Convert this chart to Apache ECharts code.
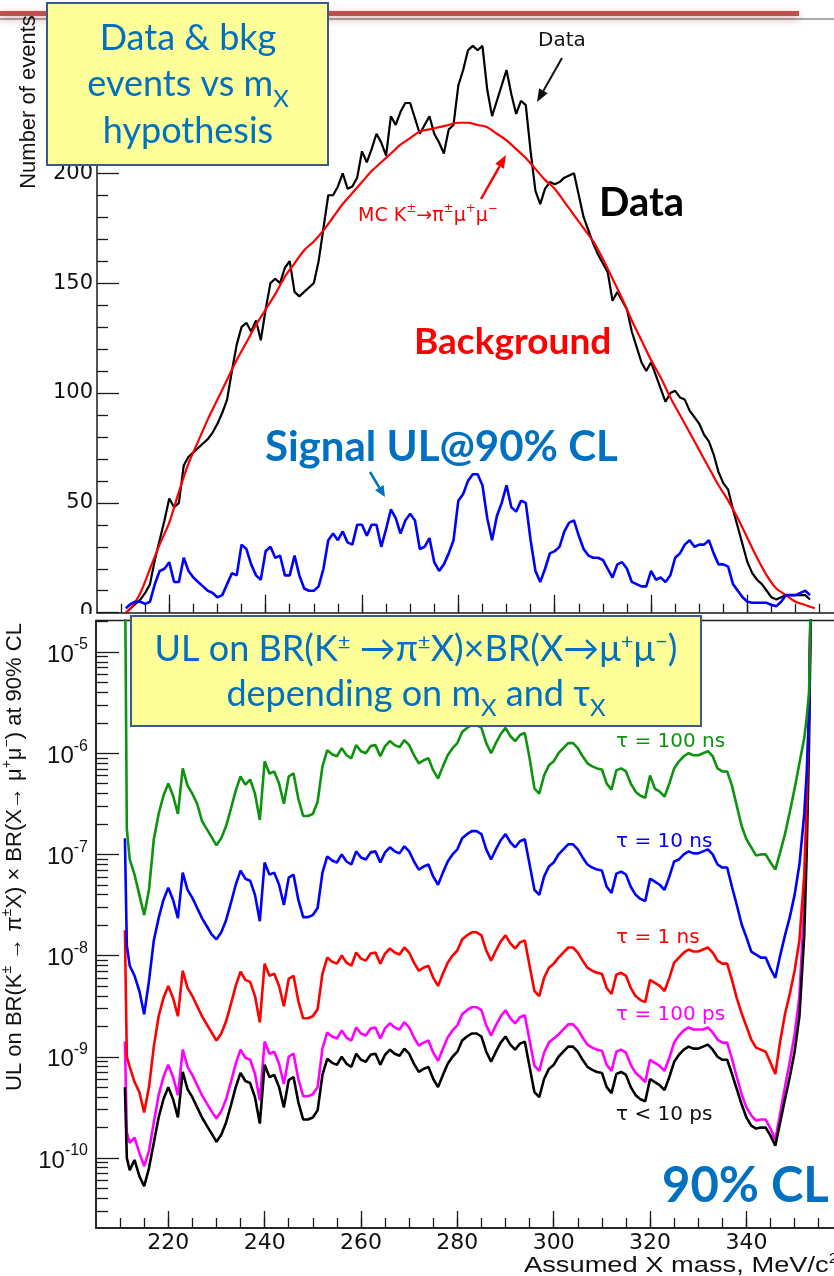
<!DOCTYPE html>
<html>
<head>
<meta charset="utf-8">
<script src="https://cdn.jsdelivr.net/npm/echarts@6/dist/echarts.min.js"></script>
<style>
  html, body { margin: 0; padding: 0; background: #fff; }
  #chart { width: 834px; height: 1276px; }
</style>
</head>
<body>
<div id="chart"></div>
<script>
// ---------- Upper panel: events vs assumed X mass (MeV/c^2) ----------
const massTop = [
  211,212,213,214,215,216,217,218,219,220,221,222,223,224,225,226,227,228,229,230,
  231,232,233,234,235,236,237,238,239,240,241,242,243,244,245,246,247,248,249,250,
  251,252,253,254,255,256,257,258,259,260,261,262,263,264,265,266,267,268,269,270,
  271,272,273,274,275,276,277,278,279,280,281,282,283,284,285,286,287,288,289,290,
  291,292,293,294,295,296,297,298,299,300,301,302,303,304,305,306,307,308,309,310,
  311,312,313,314,315,316,317,318,319,320,321,322,323,324,325,326,327,328,329,330,
  331,332,333,334,335,336,337,338,339,340,341,342,343,344,345,346,347,348,349,350,
  351,352,353
];
const dataEvents = [
  0,2,4,6,9,13,24,33,42,52, 48,50,67,71,73,75,77,79,82,86,
  91,97,110,122,130,132,128,133,124,138, 150,152,150,157,160,146,144,146,148,150,
  160,175,190,190,194,200,193,194,198,210, 205,211,218,214,208,226,222,228,232,232,
  225,218,222,226,218,214,209,220,222,240, 247,256,258,256,258,238,226,233,240,247,
  236,227,233,231,210,192,186,193,196,195, 196,198,199,200,190,180,174,168,163,159,
  155,142,146,142,138,128,121,114,110,114, 108,102,96,100,101,98,97,92,89,86,
  81,78,72,64,59,56,47,39,31,23, 18,15,13,10,7,6,7,8,8,8,
  8,8,6
];
const signalUL = [
  2,4,5,5,4,5,13,19,20,23, 14,14,25,19,16,14,12,10,9,7,
  8,13,18,17,31,29,22,17,15,28, 30,25,26,17,17,26,17,11,10,10,
  12,20,33,36,33,37,32,31,40,40, 35,40,40,30,38,47,43,36,42,45,
  42,29,30,34,23,19,22,27,33,51, 54,60,63,63,58,43,33,44,50,58,
  48,46,51,50,33,19,14,20,27,28, 30,37,41,42,35,29,26,25,25,24,
  20,16,22,23,20,14,13,12,12,19, 15,16,14,17,25,27,31,33,30,31,
  31,33,27,22,22,21,13,10,7,5, 4.5,4.5,4.5,4.5,3.5,3,5,8,8,8,
  9,10,8
];
const mcMass = [
  211,212,214,216,218,220,222,224,226,228,230,232,234,236,238,240,242,244,246,248,
  250,252,254,256,258,260,262,264,266,268,270,272,274,276,278,280,282,284,286,288,
  290,292,294,296,298,300,302,304,306,308,310,312,314,316,318,320,322,324,326,328,
  330,332,334,336,338,340,342,344,346,348,350,352,354
];
const mcEvents = [
  0,2,9,20,31,41,55,68,78,88,97,106,115,123,131,138,145,153,159,165,
  169,174,180,186,191,196,201,205,209,213,216,219,220,221,222,223,223,222,221,218,
  215,211,207,202,197,193,187,181,175,169,161,152,143,133,124,115,107,98,90,82,
  74,66,58,51,43,34,25,17,11,8,5,3.5,2
];
const countTicks = [0, 50, 100, 150, 200, 250];

// ---------- Lower panel: log10 of the 90% CL upper limit on BR ----------
const massUL = [
  211,211.4,
  212,213,214,215,216,217,218,219,220,221,
  222,223,224,225,226,227,228,229,230,231,
  232,233,234,235,236,237,238,239,240,241,
  242,243,244,245,246,247,248,249,250,251,
  252,253,254,255,256,257,258,259,260,261,
  262,263,264,265,266,267,268,269,270,271,
  272,273,274,275,276,277,278,279,280,281,
  282,283,284,285,286,287,288,289,290,291,
  292,293,294,295,296,297,298,299,300,301,
  302,303,304,305,306,307,308,309,310,311,
  312,313,314,315,316,317,318,319,320,321,
  322,323,324,325,326,327,328,329,330,331,
  332,333,334,335,336,337,338,339,340,341,
  342,343,344,345,346,347,348,349,350,351,
  352,352.5,353,353.5
];
const logUL_tauLt10ps = [
  -9.3,-10.0,
  -10.12,-10.02,-10.18,-10.28,-10.1,-9.85,-9.6,-9.42,-9.3,-9.42,
  -9.6,-9.15,-9.32,-9.4,-9.5,-9.6,-9.68,-9.76,-9.84,-9.77,
  -9.65,-9.48,-9.3,-9.16,-9.24,-9.26,-9.4,-9.66,-9.08,-9.2,
  -9.18,-9.3,-9.5,-9.23,-9.2,-9.45,-9.62,-9.62,-9.6,-9.53,
  -9.18,-9.02,-9.06,-9.08,-9.0,-9.07,-9.1,-8.97,-9.03,-9.05,
  -8.98,-8.97,-9.08,-8.98,-8.93,-8.97,-8.99,-8.92,-8.97,-9.07,
  -9.15,-9.12,-9.1,-9.22,-9.3,-9.18,-9.07,-9.0,-8.95,-8.84,
  -8.8,-8.77,-8.77,-8.8,-8.95,-9.05,-8.95,-8.86,-8.8,-8.88,
  -8.93,-8.87,-8.85,-9.1,-9.35,-9.4,-9.22,-9.12,-9.08,-9.0,
  -8.95,-8.9,-8.9,-8.95,-9.03,-9.1,-9.13,-9.15,-9.16,-9.3,
  -9.36,-9.17,-9.15,-9.18,-9.3,-9.38,-9.42,-9.44,-9.22,-9.25,
  -9.28,-9.33,-9.2,-9.05,-8.98,-8.93,-8.9,-8.92,-8.92,-8.9,
  -8.88,-8.93,-9.0,-9.03,-9.03,-9.17,-9.32,-9.47,-9.6,-9.68,
  -9.71,-9.7,-9.7,-9.78,-9.88,-9.65,-9.42,-9.2,-8.95,-8.6,
  -7.8,-7.0,-5.9,-4.0
];
const logUL_tau100ps = [
  -8.85,-9.75,
  -9.85,-9.8,-9.95,-10.08,-9.93,-9.65,-9.38,-9.2,-9.08,-9.2,
  -9.38,-8.93,-9.1,-9.18,-9.28,-9.38,-9.46,-9.54,-9.61,-9.54,
  -9.42,-9.25,-9.07,-8.93,-9.01,-9.03,-9.17,-9.43,-8.85,-8.97,
  -8.95,-9.07,-9.27,-9.0,-8.97,-9.22,-9.39,-9.39,-9.37,-9.3,
  -8.92,-8.76,-8.8,-8.82,-8.74,-8.81,-8.84,-8.71,-8.77,-8.79,
  -8.72,-8.71,-8.82,-8.72,-8.67,-8.71,-8.73,-8.66,-8.71,-8.81,
  -8.89,-8.86,-8.84,-8.96,-9.04,-8.92,-8.81,-8.74,-8.69,-8.58,
  -8.54,-8.51,-8.51,-8.54,-8.69,-8.79,-8.69,-8.6,-8.54,-8.62,
  -8.67,-8.61,-8.59,-8.84,-9.09,-9.14,-8.96,-8.86,-8.82,-8.78,
  -8.73,-8.68,-8.68,-8.73,-8.81,-8.88,-8.91,-8.93,-8.94,-9.08,
  -9.14,-8.95,-8.93,-8.96,-9.08,-9.16,-9.2,-9.25,-9.03,-9.06,
  -9.09,-9.14,-9.01,-8.86,-8.79,-8.74,-8.71,-8.73,-8.73,-8.73,
  -8.71,-8.76,-8.83,-8.86,-8.86,-9.02,-9.2,-9.37,-9.5,-9.58,
  -9.63,-9.62,-9.62,-9.71,-9.82,-9.56,-9.3,-9.05,-8.78,-8.4,
  -7.5,-6.7,-5.6,-4.0
];
const logUL_tau1ns = [
  -7.75,-9.0,
  -9.1,-9.25,-9.35,-9.55,-9.3,-8.9,-8.6,-8.42,-8.3,-8.42,
  -8.6,-8.15,-8.32,-8.4,-8.5,-8.6,-8.68,-8.76,-8.84,-8.77,
  -8.65,-8.48,-8.3,-8.16,-8.24,-8.26,-8.4,-8.66,-8.08,-8.2,
  -8.18,-8.3,-8.5,-8.23,-8.2,-8.45,-8.62,-8.62,-8.6,-8.53,
  -8.18,-8.02,-8.06,-8.08,-8.0,-8.07,-8.1,-7.97,-8.03,-8.05,
  -7.98,-7.97,-8.08,-7.98,-7.93,-7.97,-7.99,-7.92,-7.97,-8.07,
  -8.15,-8.12,-8.1,-8.22,-8.3,-8.18,-8.07,-8.0,-7.95,-7.84,
  -7.8,-7.77,-7.77,-7.8,-7.95,-8.05,-7.95,-7.86,-7.8,-7.88,
  -7.93,-7.87,-7.85,-8.1,-8.35,-8.4,-8.22,-8.12,-8.08,-8.02,
  -7.97,-7.92,-7.92,-7.97,-8.05,-8.12,-8.15,-8.17,-8.18,-8.32,
  -8.38,-8.19,-8.17,-8.2,-8.32,-8.4,-8.44,-8.46,-8.24,-8.27,
  -8.3,-8.35,-8.22,-8.07,-8.02,-7.97,-7.94,-7.96,-7.96,-7.94,
  -7.92,-7.97,-8.05,-8.08,-8.08,-8.24,-8.42,-8.57,-8.7,-8.83,
  -8.91,-8.93,-8.95,-9.06,-9.17,-8.85,-8.58,-8.38,-8.15,-7.85,
  -7.2,-6.5,-5.5,-4.0
];
const logUL_tau10ns = [
  -6.84,-7.9,
  -8.1,-8.2,-8.35,-8.58,-8.25,-7.85,-7.63,-7.45,-7.33,-7.45,
  -7.63,-7.18,-7.35,-7.43,-7.53,-7.63,-7.71,-7.79,-7.84,-7.77,
  -7.65,-7.48,-7.3,-7.16,-7.24,-7.26,-7.4,-7.66,-7.08,-7.2,
  -7.18,-7.3,-7.5,-7.23,-7.2,-7.45,-7.62,-7.62,-7.6,-7.53,
  -7.18,-7.02,-7.06,-7.08,-7.0,-7.07,-7.1,-6.97,-7.03,-7.05,
  -6.98,-6.97,-7.08,-6.98,-6.93,-6.97,-6.99,-6.92,-6.97,-7.07,
  -7.15,-7.12,-7.1,-7.22,-7.3,-7.18,-7.07,-7.0,-6.95,-6.84,
  -6.8,-6.77,-6.77,-6.8,-6.95,-7.05,-6.95,-6.86,-6.8,-6.88,
  -6.93,-6.87,-6.85,-7.1,-7.35,-7.4,-7.22,-7.12,-7.08,-7.0,
  -6.95,-6.9,-6.9,-6.95,-7.03,-7.1,-7.13,-7.15,-7.16,-7.32,
  -7.38,-7.19,-7.17,-7.2,-7.32,-7.4,-7.44,-7.46,-7.24,-7.27,
  -7.3,-7.35,-7.22,-7.07,-7.05,-7.0,-6.97,-6.99,-6.99,-6.97,
  -6.95,-7.0,-7.1,-7.13,-7.13,-7.32,-7.5,-7.69,-7.82,-7.96,
  -7.99,-8.02,-8.02,-8.13,-8.22,-8.0,-7.8,-7.62,-7.4,-7.1,
  -6.6,-6.2,-5.6,-4.0
];
const logUL_tau100ns = [
  -4.0,-6.75,
  -7.05,-7.2,-7.4,-7.6,-7.35,-6.85,-6.6,-6.42,-6.3,-6.42,
  -6.6,-6.15,-6.32,-6.4,-6.5,-6.67,-6.75,-6.83,-6.91,-6.84,
  -6.72,-6.55,-6.37,-6.23,-6.31,-6.26,-6.4,-6.66,-6.08,-6.2,
  -6.18,-6.3,-6.5,-6.23,-6.2,-6.45,-6.62,-6.62,-6.6,-6.48,
  -6.13,-5.97,-6.01,-6.03,-5.95,-6.02,-6.05,-5.92,-5.98,-6.0,
  -5.93,-5.92,-6.03,-5.93,-5.88,-5.92,-5.94,-5.87,-5.92,-6.02,
  -6.1,-6.07,-6.05,-6.17,-6.25,-6.13,-6.02,-5.95,-5.9,-5.79,
  -5.75,-5.72,-5.72,-5.75,-5.9,-6.0,-5.9,-5.81,-5.75,-5.83,
  -5.88,-5.82,-5.8,-6.05,-6.35,-6.4,-6.22,-6.12,-6.08,-6.0,
  -5.95,-5.9,-5.9,-5.95,-6.03,-6.1,-6.13,-6.15,-6.16,-6.3,
  -6.36,-6.17,-6.15,-6.18,-6.3,-6.38,-6.42,-6.44,-6.22,-6.35,
  -6.38,-6.43,-6.3,-6.15,-6.08,-6.03,-6.0,-6.02,-6.02,-6.0,
  -5.98,-6.03,-6.15,-6.18,-6.18,-6.32,-6.52,-6.72,-6.85,-6.93,
  -7.01,-7.0,-7.0,-7.08,-7.15,-6.98,-6.8,-6.58,-6.35,-6.1,
  -5.85,-5.65,-5.4,-4.0
];
const ulDecades = [1e-10, 1e-9, 1e-8, 1e-7, 1e-6, 1e-5];

// ---------- shared mass ticks ----------
const massMajorTicks = [220, 240, 260, 280, 300, 320, 340];
const massMinorTicks = [];
for (let m = 210; m <= 355; m += 5) massMinorTicks.push(m);

// log-axis minor ticks at 2..9 x 10^n
const ulMinorTicks = [];
for (let d = -11; d <= -5; d++) {
  for (let k = 2; k <= 9; k++) ulMinorTicks.push(k * Math.pow(10, d));
}

const AXIS = '#1a1a1a';
const ROOT_FONT = 'DejaVu Sans';
const TITLE_FONT = 'Liberation Sans';
const SLIDE_FONT = 'Lato';
const SLIDE_BLUE = '#0070C0';
const GREEN = '#0e930e';

const pts = (xs, ys) => xs.map((x, i) => [x, ys[i]]);
const ulPts = (xs, logs) => xs.map((x, i) => [x, Math.pow(10, logs[i])]);

function massAxis(gridIndex, ticks, len, withLabels, showLine) {
  return {
    gridIndex, type: 'value', min: 205, max: 358.8, position: 'bottom',
    axisLine: { show: showLine, onZero: false, lineStyle: { color: AXIS, width: 1.5 } },
    axisTick: { show: true, inside: true, length: len, customValues: ticks,
                lineStyle: { color: AXIS, width: 1.3 } },
    axisLabel: withLabels
      ? { show: true, customValues: ticks, margin: 4, color: '#111',
          fontFamily: ROOT_FONT, fontSize: 22 }
      : { show: false },
    splitLine: { show: false }
  };
}

function ulAxis(ticks, len, withLabels, showLine) {
  return {
    gridIndex: 1, type: 'log', logBase: 10, min: 2.03e-11, max: 2.05e-5,
    position: 'left', offset: 0,
    axisLine: { show: showLine, onZero: false, lineStyle: { color: AXIS, width: 1.5 } },
    axisTick: { show: true, inside: true, length: len, customValues: ticks,
                lineStyle: { color: AXIS, width: 1.3 } },
    axisLabel: withLabels ? {
      show: true, customValues: ticks, margin: 8, color: '#111',
      formatter: v => '{b|10}{e|' + Math.round(Math.log10(v)) + '}',
      rich: {
        b: { fontFamily: TITLE_FONT, fontSize: 24, lineHeight: 30, verticalAlign: 'bottom', color: '#111' },
        e: { fontFamily: TITLE_FONT, fontSize: 16, lineHeight: 16, verticalAlign: 'top', color: '#111' }
      }
    } : { show: false },
    splitLine: { show: false }
  };
}

function arrow(x1, y1, x2, y2, color, width, headLen, headWidth) {
  const dx = x2 - x1, dy = y2 - y1, len = Math.hypot(dx, dy);
  const ux = dx / len, uy = dy / len;
  const bx = x2 - ux * headLen, by = y2 - uy * headLen;
  const px = -uy * headWidth / 2, py = ux * headWidth / 2;
  return [
    { type: 'line', z: 30, shape: { x1: x1, y1: y1, x2: bx, y2: by },
      style: { stroke: color, lineWidth: width } },
    { type: 'polygon', z: 30, shape: { points: [[x2, y2], [bx + px, by + py], [bx - px, by - py]] },
      style: { fill: color } }
  ];
}

function label(x, y, text, opts) {
  return Object.assign({
    type: 'text', x: x, y: y, z: 30,
    style: Object.assign({ text: text, align: 'left', verticalAlign: 'middle' }, opts.style)
  }, opts.el || {});
}

const supRich = (size, color, font) => ({
  s: { fontSize: size, lineHeight: size, verticalAlign: 'top', fill: color, fontFamily: font }
});

const graphics = [
  // slide header strip
  { type: 'rect', z: 5, shape: { x: 0, y: 11, width: 799, height: 5 },
    style: { fill: '#C0504D', shadowBlur: 8, shadowColor: 'rgba(192,80,77,0.55)', shadowOffsetY: 3 } },
  { type: 'line', z: 5, shape: { x1: 0, y1: 19, x2: 834, y2: 19 },
    style: { stroke: '#555', lineWidth: 1 } },
  // lower panel sits over the upper one
  { type: 'rect', z: 6, shape: { x: 0, y: 614, width: 95, height: 22 }, style: { fill: '#fff' } },

  // axis titles
  label(29, 102, 'Number of events', {
    style: { fontFamily: TITLE_FONT, fontSize: 22, fill: '#111', align: 'center' },
    el: { rotation: Math.PI / 2 } }),
  label(15, 857, 'UL on BR(K{s|±} → π{s|±}X) × BR(X→ μ{s|+}μ{s|−}) at 90% CL', {
    style: { fontFamily: TITLE_FONT, fontSize: 22, lineHeight: 30, fill: '#111', align: 'center',
             rich: supRich(14, '#111', TITLE_FONT) },
    el: { rotation: Math.PI / 2 } }),
  label(524, 1266, 'Assumed X mass, MeV/c{s|2}', {
    style: { fontFamily: TITLE_FONT, fontSize: 22, lineHeight: 28, fill: '#111',
             rich: supRich(14, '#111', TITLE_FONT) },
    el: { scaleX: 1.24 } }),

  // upper panel annotations
  label(562, 41, 'Data', { style: { fontFamily: ROOT_FONT, fontSize: 20, fill: '#111', align: 'center' } }),
  ...arrow(562, 58, 537, 102, '#111', 2, 13, 10),
  label(358, 216, 'MC K{s|±}→π{s|±}μ{s|+}μ{s|−}', {
    style: { fontFamily: ROOT_FONT, fontSize: 19, lineHeight: 26, fill: '#ff0000',
             rich: supRich(12, '#ff0000', ROOT_FONT) } }),
  ...arrow(481, 199, 506, 155, '#ff0000', 2.5, 13, 10),
  label(599, 203, 'Data', { style: { fontFamily: SLIDE_FONT, fontWeight: 'bold', fontSize: 40, fill: '#000' } }),
  label(414, 342, 'Background', { style: { fontFamily: SLIDE_FONT, fontWeight: 'bold', fontSize: 37, fill: '#ff0000' } }),
  label(265, 447, 'Signal UL@90% CL', { style: { fontFamily: SLIDE_FONT, fontWeight: 'bold', fontSize: 42, fill: SLIDE_BLUE } }),
  ...arrow(370, 472, 385, 497, SLIDE_BLUE, 2.5, 11, 10),

  // lower panel annotations
  label(616, 742, 'τ = 100 ns', { style: { fontFamily: ROOT_FONT, fontSize: 20, fill: GREEN } }),
  label(616, 842, 'τ = 10 ns', { style: { fontFamily: ROOT_FONT, fontSize: 20, fill: '#0000ff' } }),
  label(616, 938, 'τ = 1 ns', { style: { fontFamily: ROOT_FONT, fontSize: 20, fill: '#ff0000' } }),
  label(616, 1015, 'τ = 100 ps', { style: { fontFamily: ROOT_FONT, fontSize: 20, fill: '#ff00ff' } }),
  label(616, 1115, 'τ < 10 ps', { style: { fontFamily: ROOT_FONT, fontSize: 20, fill: '#111' } }),
  label(662, 1186, '90% CL', { style: { fontFamily: SLIDE_FONT, fontWeight: 'bold', fontSize: 49, fill: SLIDE_BLUE } }),

  // callout boxes
  { type: 'rect', z: 40, shape: { x: 47, y: 3, width: 281, height: 162 },
    style: { fill: '#FFFF99', stroke: '#3B5A87', lineWidth: 2 } },
  label(188, 38, 'Data & bkg', { style: { fontFamily: SLIDE_FONT, fontSize: 36, fill: SLIDE_BLUE, align: 'center' }, el: { z: 41 } }),
  label(188, 84, 'events vs m{sub|X}', {
    style: { fontFamily: SLIDE_FONT, fontSize: 36, lineHeight: 54, fill: SLIDE_BLUE, align: 'center',
             rich: { sub: { fontFamily: SLIDE_FONT, fontSize: 24, lineHeight: 24, verticalAlign: 'bottom', fill: SLIDE_BLUE } } },
    el: { z: 41 } }),
  label(188, 131, 'hypothesis', { style: { fontFamily: SLIDE_FONT, fontSize: 36, fill: SLIDE_BLUE, align: 'center' }, el: { z: 41 } }),

  { type: 'rect', z: 40, shape: { x: 131, y: 616, width: 570, height: 110 },
    style: { fill: '#FFFF99', stroke: '#3B5A87', lineWidth: 2 } },
  label(416, 649, 'UL on BR(K{s|±} →π{s|±}X)×BR(X→μ{s|+}μ{s|−})', {
    style: { fontFamily: SLIDE_FONT, fontSize: 36, lineHeight: 36, fill: SLIDE_BLUE, align: 'center',
             rich: supRich(22, SLIDE_BLUE, SLIDE_FONT) },
    el: { z: 41 } }),
  label(416, 694, 'depending on m{sub|X} and τ{sub|X}', {
    style: { fontFamily: SLIDE_FONT, fontSize: 36, lineHeight: 52, fill: SLIDE_BLUE, align: 'center',
             rich: { sub: { fontFamily: SLIDE_FONT, fontSize: 24, lineHeight: 24, verticalAlign: 'bottom', fill: SLIDE_BLUE } } },
    el: { z: 41 } })
];

const lineSeries = (name, xi, yi, data, color, width, extra) => Object.assign({
  name, type: 'line', xAxisIndex: xi, yAxisIndex: yi, data,
  symbol: 'none', showSymbol: false, clip: true,
  lineStyle: { color, width }, itemStyle: { color }
}, extra || {});

const option = {
  animation: false,
  backgroundColor: '#fff',
  grid: [
    { left: 97, top: 19.5, width: 741, height: 593.2, outerBoundsMode: 'none', containLabel: false },
    { left: 96, top: 620.5, width: 741, height: 607.5, show: true, outerBoundsMode: 'none', containLabel: false,
      borderColor: AXIS, borderWidth: 1.5, backgroundColor: '#fff' }
  ],
  xAxis: [
    massAxis(0, massMinorTicks, 9, false, true),
    massAxis(0, massMajorTicks, 18, false, false),
    massAxis(1, massMinorTicks, 10, false, true),
    massAxis(1, massMajorTicks, 17, true, false)
  ],
  yAxis: [
    {
      gridIndex: 0, type: 'value', min: 0, max: 270, interval: 50, position: 'left',
      axisLine: { show: true, onZero: false, lineStyle: { color: AXIS, width: 1.5 } },
      axisTick: { show: true, inside: true, length: 22, lineStyle: { color: AXIS, width: 1.3 } },
      minorTick: { show: true, splitNumber: 5, length: 11, lineStyle: { color: AXIS, width: 1.3 } },
      axisLabel: { show: true, margin: 4, color: '#111', fontFamily: ROOT_FONT, fontSize: 21,
                   formatter: v => (countTicks.indexOf(v) >= 0 ? String(v) : '') },
      splitLine: { show: false }, minorSplitLine: { show: false }
    },
    ulAxis(ulDecades, 23, true, true),
    ulAxis(ulMinorTicks, 12, false, false)
  ],
  series: [
    lineSeries('Data', 0, 0, pts(massTop, dataEvents), '#000000', 2.2),
    lineSeries('MC K→πμμ', 0, 0, pts(mcMass, mcEvents), '#ff0000', 2.2, { smooth: 0.3 }),
    lineSeries('Signal UL', 0, 0, pts(massTop, signalUL), '#0000ff', 2.6),
    lineSeries('τ = 100 ps', 2, 1, ulPts(massUL, logUL_tau100ps), '#ff00ff', 2.6),
    lineSeries('τ < 10 ps', 2, 1, ulPts(massUL, logUL_tauLt10ps), '#000000', 2.6),
    lineSeries('τ = 1 ns', 2, 1, ulPts(massUL, logUL_tau1ns), '#ff0000', 2.6),
    lineSeries('τ = 10 ns', 2, 1, ulPts(massUL, logUL_tau10ns), '#0000ff', 2.6),
    lineSeries('τ = 100 ns', 2, 1, ulPts(massUL, logUL_tau100ns), GREEN, 2.6)
  ],
  graphic: { elements: graphics }
};

const chart = echarts.init(document.getElementById('chart'), null, { renderer: 'canvas' });
chart.setOption(option);
</script>
</body>
</html>
